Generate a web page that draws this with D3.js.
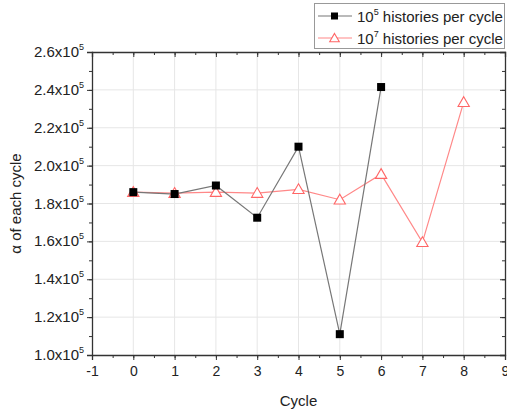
<!DOCTYPE html>
<html>
<head>
<meta charset="utf-8">
<script src="https://d3js.org/d3.v7.min.js"></script>
<style>
  body { margin: 0; background: #fff; font-family: "Liberation Sans", Arial, sans-serif; }
</style>
</head>
<body>
<div id="chart"></div>
<script>
// data
var cyclesA = [0, 1, 2, 3, 4, 5, 6];
var alphaA = [1.86, 1.85, 1.895, 1.725, 2.10, 1.11, 2.415];
var cyclesB = [0, 1, 2, 3, 4, 5, 6, 7, 8];
var alphaB = [1.86, 1.855, 1.86, 1.855, 1.875, 1.82, 1.955, 1.595, 2.335];
var xTicks = [-1, 0, 1, 2, 3, 4, 5, 6, 7, 8, 9];
var yTicks = [1.0, 1.2, 1.4, 1.6, 1.8, 2.0, 2.2, 2.4, 2.6];
var seriesNames = ["histories per cycle", "histories per cycle"];
var seriesExp = ["5", "7"];

var W = 507, H = 412;
var pLeft = 92, pRight = 505, pTop = 52, pBottom = 355;

var svg = d3.select("#chart").append("svg")
  .attr("width", W).attr("height", H)
  .style("font-family", "'Liberation Sans', Arial, sans-serif");

var x = d3.scaleLinear().domain([-1, 9]).range([pLeft, pRight]);
var y = d3.scaleLinear().domain([1.0, 2.6]).range([pBottom, pTop]);

// grid
svg.append("g").selectAll("line").data(xTicks.slice(1, -1)).enter().append("line")
  .attr("x1", function(d) { return x(d); }).attr("x2", function(d) { return x(d); })
  .attr("y1", pTop).attr("y2", pBottom)
  .attr("stroke", "#e6e6e6").attr("stroke-width", 1);
svg.append("g").selectAll("line").data(yTicks.slice(1, -1)).enter().append("line")
  .attr("y1", function(d) { return y(d); }).attr("y2", function(d) { return y(d); })
  .attr("x1", pLeft).attr("x2", pRight)
  .attr("stroke", "#e6e6e6").attr("stroke-width", 1);

// axes
var xMinor = d3.range(-1, 9.01, 0.5);
var yMinor = d3.range(1.0, 2.601, 0.1);

var xAxis = svg.append("g").attr("transform", "translate(0," + pBottom + ")")
  .call(d3.axisBottom(x).tickValues(xTicks).tickSize(5).tickPadding(6)
    .tickFormat(function(d) { return String(d); }));
svg.append("g").attr("transform", "translate(0," + pBottom + ")")
  .call(d3.axisBottom(x).tickValues(xMinor).tickSize(3).tickFormat(""))
  .select(".domain").remove();
svg.append("g").attr("transform", "translate(" + pLeft + ",0)")
  .call(d3.axisLeft(y).tickValues(yTicks).tickSize(5).tickFormat(""));
svg.append("g").attr("transform", "translate(" + pLeft + ",0)")
  .call(d3.axisLeft(y).tickValues(yMinor).tickSize(3).tickFormat(""))
  .select(".domain").remove();

// top and right axes with inward ticks
svg.append("g").attr("transform", "translate(0," + pTop + ")")
  .call(d3.axisTop(x).tickValues(xTicks).tickSize(-5).tickFormat(""));
svg.append("g").attr("transform", "translate(0," + pTop + ")")
  .call(d3.axisTop(x).tickValues(xMinor).tickSize(-3).tickFormat(""))
  .select(".domain").remove();
svg.append("g").attr("transform", "translate(" + pRight + ",0)")
  .call(d3.axisRight(y).tickValues(yTicks).tickSize(-5).tickFormat(""));
svg.append("g").attr("transform", "translate(" + pRight + ",0)")
  .call(d3.axisRight(y).tickValues(yMinor).tickSize(-3).tickFormat(""))
  .select(".domain").remove();

svg.selectAll(".domain").attr("stroke", "#333").attr("stroke-width", 1.3);
svg.selectAll(".tick line").attr("stroke", "#333");
xAxis.selectAll("text").attr("font-size", 14).attr("fill", "#222")
  .attr("font-family", "'Liberation Sans', Arial, sans-serif");

// y tick labels with superscript
var yl = svg.append("g").selectAll("text").data(yTicks).enter().append("text")
  .attr("x", pLeft - 8).attr("y", function(d) { return y(d) + 5; })
  .attr("text-anchor", "end").attr("font-size", 15).attr("fill", "#222");
yl.append("tspan").text(function(d) { return d3.format(".1f")(d) + "x10"; });
yl.append("tspan").attr("dy", -7).attr("font-size", 9).text("5");

// axis titles
svg.append("text").attr("x", (pLeft + pRight) / 2).attr("y", 406)
  .attr("text-anchor", "middle").attr("font-size", 15).attr("fill", "#222").text("Cycle");
svg.append("text").attr("transform", "translate(21," + ((pTop + pBottom) / 2) + ") rotate(-90)")
  .attr("text-anchor", "middle").attr("font-size", 15).attr("fill", "#222").text("α of each cycle");

// lines
var line = d3.line().x(function(d) { return x(d[0]); }).y(function(d) { return y(d[1]); });
var ptsA = cyclesA.map(function(c, i) { return [c, alphaA[i]]; });
var ptsB = cyclesB.map(function(c, i) { return [c, alphaB[i]]; });

svg.append("path").datum(ptsB).attr("d", line)
  .attr("fill", "none").attr("stroke", "#f88").attr("stroke-width", 1.2);
svg.append("path").datum(ptsA).attr("d", line)
  .attr("fill", "none").attr("stroke", "#777").attr("stroke-width", 1.2);

var tri = d3.symbol().type(d3.symbolTriangle).size(55);
svg.append("g").selectAll("path").data(ptsB).enter().append("path")
  .attr("d", tri)
  .attr("transform", function(d) { return "translate(" + x(d[0]) + "," + (y(d[1]) + 1) + ")"; })
  .attr("fill", "#fff").attr("stroke", "#f66").attr("stroke-width", 1.1);
svg.append("g").selectAll("rect").data(ptsA).enter().append("rect")
  .attr("x", function(d) { return x(d[0]) - 4; }).attr("y", function(d) { return y(d[1]) - 4; })
  .attr("width", 8).attr("height", 8).attr("fill", "#000");

// legend
var lg = svg.append("g");
lg.append("rect").attr("x", 314.5).attr("y", 3.5).attr("width", 190).attr("height", 45)
  .attr("fill", "#fff").attr("stroke", "#999");
var legColors = ["#777", "#f88"];
seriesNames.forEach(function(name, i) {
  var yy = 16 + i * 22;
  lg.append("line").attr("x1", 318).attr("x2", 352).attr("y1", yy).attr("y2", yy)
    .attr("stroke", legColors[i]).attr("stroke-width", 1.2);
  if (i === 0) {
    lg.append("rect").attr("x", 331).attr("y", yy - 3.5).attr("width", 7).attr("height", 7).attr("fill", "#000");
  } else {
    lg.append("path").attr("d", d3.symbol().type(d3.symbolTriangle).size(40))
      .attr("transform", "translate(334.5," + (yy + 1) + ")")
      .attr("fill", "#fff").attr("stroke", "#f66").attr("stroke-width", 1.1);
  }
  var t = lg.append("text").attr("x", 357).attr("y", yy + 5.5).attr("font-size", 15).attr("fill", "#222");
  t.append("tspan").text("10");
  t.append("tspan").attr("dy", -7).attr("font-size", 9).text(seriesExp[i]);
  t.append("tspan").attr("dy", 7).text(" " + name);
});
</script>
</body>
</html>
